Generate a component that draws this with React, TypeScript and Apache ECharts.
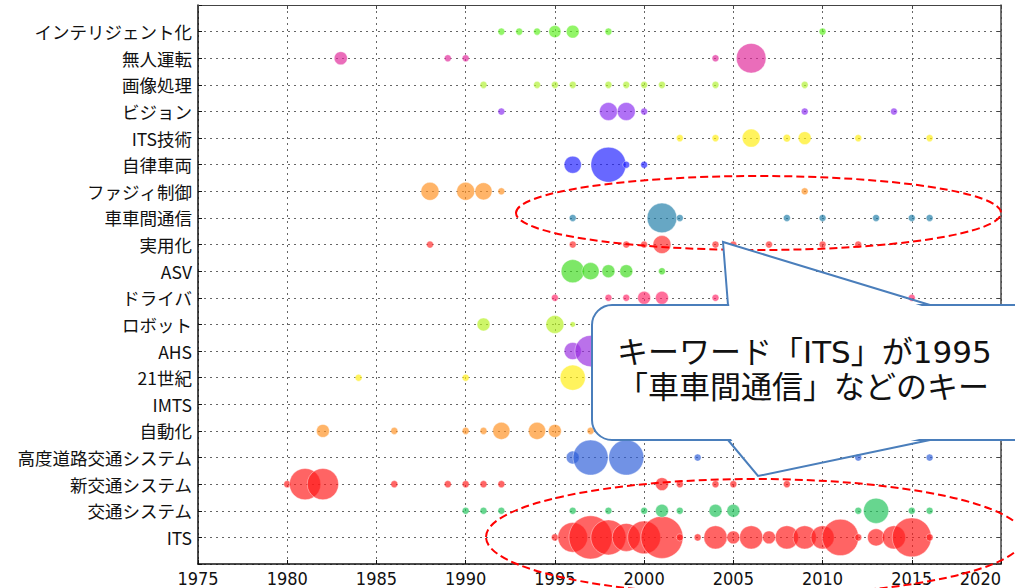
import React, { useEffect, useRef } from "react";
import * as echarts from "echarts";

// Keyword rows, bottom to top
const categories = [
  "ITS", "交通システム", "新交通システム", "高度道路交通システム", "自動化", "IMTS",
  "21世紀", "AHS", "ロボット", "ドライバ", "ASV", "実用化", "車車間通信",
  "ファジィ制御", "自律車両", "ITS技術", "ビジョン", "画像処理", "無人運転",
  "インテリジェント化",
];

const xTicks = [1975, 1980, 1985, 1990, 1995, 2000, 2005, 2010, 2015, 2020];

// [year, count]
const kwITS = [[1995,1],[1996,18],[1997,38],[1998,25],[1999,16],[2000,22],[2001,36],[2002,1],[2003,1],[2004,11],[2005,3.4],[2006,11],[2007,3.4],[2008,11],[2009,11],[2010,11],[2011,27],[2012,1],[2013,6],[2014,11],[2015,31],[2016,1]];
const kwKotsu = [[1990,1],[1991,1],[1992,1],[1996,1],[1998,1],[2000,1],[2001,3.4],[2002,1],[2004,3.4],[2005,3.4],[2012,1],[2013,13],[2015,1],[2016,1]];
const kwShinKotsu = [[1980,1],[1981,20],[1982,20],[1986,1],[1989,1],[1990,1],[1991,1],[1992,1],[2001,3.4],[2002,1],[2004,1],[2005,1],[2008,1]];
const kwKodoDoro = [[1996,3.4],[1997,25],[1999,25],[2003,1],[2012,1],[2016,1]];
const kwJidoka = [[1982,3.4],[1986,1],[1990,1],[1991,1],[1992,6],[1994,6],[1995,3.4],[1997,1]];
const kwIMTS: number[][] = [];
const kw21 = [[1984,1],[1990,1],[1996,13]];
const kwAHS = [[1996,6],[1997,20]];
const kwRobot = [[1991,3.4],[1995,6.6],[1996,0.6]];
const kwDriver = [[1995,1],[1998,1],[1999,1],[2000,3.4],[2001,3.4],[2004,1],[2015,1]];
const kwASV = [[1996,11],[1997,6],[1998,3.4],[1999,3.4],[2001,1]];
const kwJitsuyo = [[1988,1],[1996,1],[1999,1],[2000,1],[2001,6.6],[2004,1],[2005,1],[2007,1],[2010,1],[2012,1]];
const kwShashakan = [[1996,1],[2001,18],[2002,1],[2008,1],[2010,1],[2013,1],[2015,1],[2016,1]];
const kwFuzzy = [[1988,6.6],[1990,6.6],[1991,6],[1992,1],[2009,1]];
const kwJiritsu = [[1996,6],[1998,25],[1999,1],[2000,1]];
const kwITSGijutsu = [[2002,1],[2004,1],[2006,6.6],[2008,1.2],[2009,3.4],[2012,1],[2016,1]];
const kwVision = [[1992,1],[1998,6.6],[1999,6.6],[2000,1],[2009,1],[2014,1]];
const kwGazo = [[1991,1],[1994,1],[1995,1],[1996,1],[1998,1],[1999,1],[2000,1],[2001,1],[2004,1],[2009,1]];
const kwMujin = [[1983,3.5],[1989,1],[1990,1],[2004,1],[2006,18]];
const kwIntelligent = [[1992,1],[1993,1],[1994,1],[1995,3],[1996,3.4],[1998,1],[2010,1]];

const rows = [
  kwITS, kwKotsu, kwShinKotsu, kwKodoDoro, kwJidoka, kwIMTS, kw21, kwAHS, kwRobot,
  kwDriver, kwASV, kwJitsuyo, kwShashakan, kwFuzzy, kwJiritsu, kwITSGijutsu,
  kwVision, kwGazo, kwMujin, kwIntelligent,
];

const palette = [
  "#ff1a1a", "#1fc25a", "#ff1a1a", "#2e5fd8", "#ff9020", "#999999", "#ffee10",
  "#9a2ee0", "#b5f020", "#ff2a6a", "#3fdc1f", "#ff2a2a", "#1f7ea8", "#ff9020",
  "#2020ff", "#ffee10", "#8a2ef0", "#b0f030", "#e0289a", "#5ef020",
];

const calloutLine1 = "キーワード「ITS」が1995";
const calloutLine2 = "「車車間通信」などのキー";

export default function App() {
  const ref = useRef<HTMLDivElement>(null);
  useEffect(() => {
    if (!ref.current) return;
    const chart = echarts.init(ref.current, null, { renderer: "svg" });
    const grid = { left: 198, right: 14, top: 5, bottom: 24, outerBoundsMode: "none", containLabel: false };
    const dotted = { color: "#666", width: 1, type: [2, 4] as any };
    const series = rows.map((r, i) => ({
      type: "scatter",
      name: categories[i],
      data: r.map((p) => [p[0], i, p[1]]),
      symbolSize: (v: number[]) => 7 * Math.sqrt(v[2]),
      itemStyle: {
        color: palette[i],
        opacity: 0.68,
        borderColor: "#ffffff",
        borderWidth: 0.6,
      },
      z: 3,
    }));
    const blue = "#4a7ebb";
    chart.setOption({
      animation: false,
      grid,
      xAxis: [
        {
          type: "value",
          min: xTicks[0],
          max: xTicks[xTicks.length - 1],
          interval: 5,
          axisLine: { show: true, onZero: false, lineStyle: { color: "#111", width: 1.5 } },
          axisTick: { show: true, inside: true, length: 4, lineStyle: { color: "#111" } },
          axisLabel: {
            color: "#111",
            fontSize: 18,
            margin: 5,
            alignMaxLabel: "right",
            fontFamily: "'Liberation Sans Narrow', 'DejaVu Sans Condensed', 'Roboto', sans-serif",
            formatter: (v: number) => String(v),
          },
          splitLine: { show: true, lineStyle: dotted },
        },
        {
          type: "value",
          position: "top",
          min: xTicks[0],
          max: xTicks[xTicks.length - 1],
          interval: 5,
          axisLine: { show: true, onZero: false, lineStyle: { color: "#444", width: 1 } },
          axisTick: { show: true, inside: true, length: 4, lineStyle: { color: "#444" } },
          axisLabel: { show: false },
          splitLine: { show: false },
        },
      ],
      yAxis: [
        {
          type: "value",
          min: -1,
          max: 20,
          interval: 1,
          axisLine: { show: true, onZero: false, lineStyle: { color: "#111", width: 1.5 } },
          axisTick: { show: true, inside: true, length: 4, lineStyle: { color: "#111" } },
          axisLabel: {
            color: "#111",
            fontSize: 17.5,
            margin: 6,
            fontFamily: "'Noto Sans CJK JP', sans-serif",
            formatter: (v: number) => (v >= 0 && v < categories.length ? categories[v] : ""),
          },
          splitLine: { show: true, lineStyle: dotted },
        },
        {
          type: "value",
          position: "right",
          min: -1,
          max: 20,
          interval: 1,
          axisLine: { show: true, onZero: false, lineStyle: { color: "#444", width: 1.5 } },
          axisTick: { show: true, inside: true, length: 4, lineStyle: { color: "#444" } },
          axisLabel: { show: false },
          splitLine: { show: false },
        },
      ],
      series,
      graphic: [
        {
          type: "ellipse",
          z: 50,
          shape: { cx: 758.5, cy: 213, rx: 242.5, ry: 37 },
          style: { fill: "none", stroke: "#ff0000", lineWidth: 2, lineDash: [8, 4] },
          silent: true,
        },
        {
          type: "ellipse",
          z: 50,
          shape: { cx: 755, cy: 537, rx: 269, ry: 58 },
          style: { fill: "none", stroke: "#ff0000", lineWidth: 2, lineDash: [8, 4] },
          silent: true,
        },
        {
          type: "rect",
          z: 60,
          shape: { x: 592, y: 305, width: 500, height: 135, r: 20 },
          style: { fill: "#ffffff", stroke: blue, lineWidth: 2 },
          silent: true,
        },
        {
          type: "polygon",
          z: 61,
          shape: { points: [[729.5, 308], [723, 242], [928, 308]] },
          style: { fill: "#ffffff", stroke: "none" },
          silent: true,
        },
        {
          type: "polygon",
          z: 61,
          shape: { points: [[729.5, 437], [758, 476], [928, 437]] },
          style: { fill: "#ffffff", stroke: "none" },
          silent: true,
        },
        {
          type: "polyline",
          z: 62,
          shape: { points: [[728, 305], [723, 242], [930, 305]] },
          style: { fill: "none", stroke: blue, lineWidth: 2 },
          silent: true,
        },
        {
          type: "polyline",
          z: 62,
          shape: { points: [[728, 440], [758, 476], [930, 440]] },
          style: { fill: "none", stroke: blue, lineWidth: 2 },
          silent: true,
        },
        {
          type: "text",
          z: 63,
          x: 617,
          y: 352,
          style: {
            text: calloutLine1,
            fill: "#111",
            fontSize: 31,
            fontFamily: "'DejaVu Sans', 'Noto Sans CJK JP', sans-serif",
            verticalAlign: "middle",
            align: "left",
          },
          silent: true,
        },
        {
          type: "text",
          z: 63,
          x: 617,
          y: 387,
          style: {
            text: calloutLine2,
            fill: "#111",
            fontSize: 31,
            fontFamily: "'DejaVu Sans', 'Noto Sans CJK JP', sans-serif",
            verticalAlign: "middle",
            align: "left",
          },
          silent: true,
        },
      ],
    });
    return () => chart.dispose();
  }, []);
  return <div ref={ref} style={{ width: 1015, height: 588, position: "absolute", left: 0, top: 0 }} />;
}
